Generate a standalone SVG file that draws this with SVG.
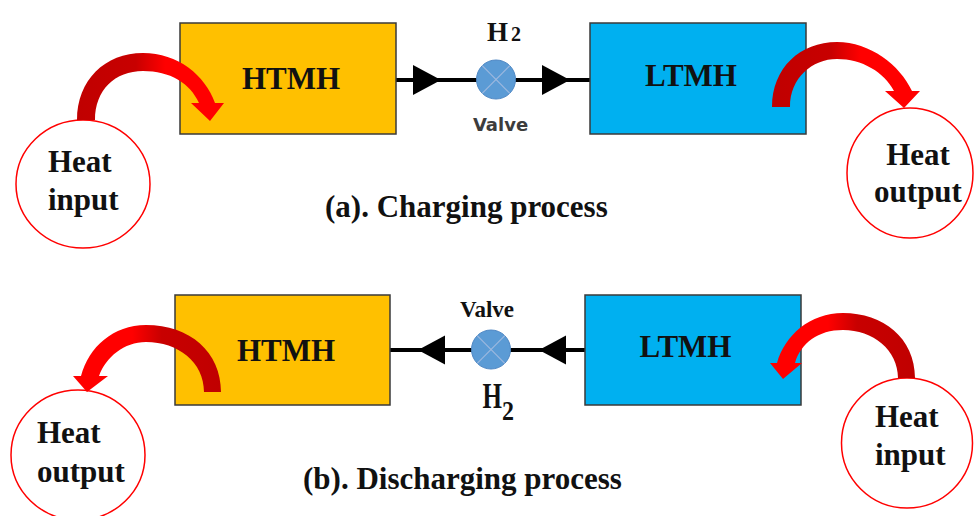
<svg xmlns="http://www.w3.org/2000/svg" xmlns:xlink="http://www.w3.org/1999/xlink" width="974" height="516" viewBox="0 0 974 516">
<defs>
<style>
.t{font-family:"Liberation Serif","Times New Roman",serif;font-weight:bold;fill:#111;}
.f31{font-size:31px;}
.box{stroke:#3a3a3a;stroke-width:1.5;}
.htmh{fill:#FFC000;}
.ltmh{fill:#00B0F0;}
.heat{fill:#fff;stroke:#FF0000;stroke-width:1.5;}
.pipe{stroke:#000;stroke-width:4;fill:none;}
.valve{fill:#5B9BD5;stroke:#5088c4;stroke-width:1;}
.vx{stroke:#9DB9DF;stroke-width:1.2;}
.ah{fill:#000;}
.sans{font-family:"DejaVu Sans",Verdana,sans-serif;font-weight:bold;font-size:18px;fill:#3c3c3c;}
</style>
<linearGradient id="gR" x1="0" y1="0" x2="1" y2="0">
<stop offset="0" stop-color="#C00000"/>
<stop offset="0.4" stop-color="#C80000"/>
<stop offset="0.6" stop-color="#FF0000"/>
<stop offset="1" stop-color="#FF0000"/>
</linearGradient>
<linearGradient id="gL" x1="1" y1="0" x2="0" y2="0">
<stop offset="0" stop-color="#C00000"/>
<stop offset="0.4" stop-color="#C80000"/>
<stop offset="0.6" stop-color="#FF0000"/>
<stop offset="1" stop-color="#FF0000"/>
</linearGradient>
<path id="ahR" d="M0,-15 L28,0 L0,15 Z"/>
<path id="ahL" d="M0,-14.5 L-27,0 L0,14.5 Z"/>
</defs>
<rect width="974" height="516" fill="#fff"/>

<g id="connectors">
<line class="pipe" x1="396" y1="80" x2="590" y2="80"/>
<use xlink:href="#ahR" class="ah" transform="translate(413,80)"/>
<use xlink:href="#ahR" class="ah" transform="translate(542,80)"/>
<line class="pipe" x1="390" y1="350" x2="585" y2="350"/>
<use xlink:href="#ahL" class="ah" transform="translate(445,350)"/>
<use xlink:href="#ahL" class="ah" transform="translate(566,350)"/>
</g>

<g id="htmh-a">
<rect class="box htmh" x="180" y="23" width="216" height="111"/>
<text class="t f31" x="291" y="88.5" text-anchor="middle">HTMH</text>
</g>
<g id="ltmh-a">
<rect class="box ltmh" x="590" y="23" width="216" height="111"/>
<text class="t f31" x="691" y="86" text-anchor="middle">LTMH</text>
</g>
<g id="valve-a">
<circle class="valve" cx="496" cy="79.5" r="19.5"/>
<line class="vx" x1="482.2" y1="65.7" x2="509.8" y2="93.3"/>
<line class="vx" x1="509.8" y1="65.7" x2="482.2" y2="93.3"/>
<text class="t" x="487" y="40.5" font-size="27">H<tspan font-size="20" dx="3">2</tspan></text>
<text class="sans" x="500.5" y="131" text-anchor="middle">Valve</text>
</g>
<g id="heat-input-a">
<ellipse class="heat" cx="83" cy="184" rx="67" ry="64"/>
<text class="t f31" x="48" y="172">Heat</text>
<text class="t f31" x="48" y="210">input</text>
</g>
<g id="heat-output-a">
<ellipse class="heat" cx="910" cy="173" rx="63" ry="65"/>
<text class="t f31" x="918" y="165" text-anchor="middle">Heat</text>
<text class="t f31" x="918" y="202" text-anchor="middle">output</text>
</g>
<g id="heat-flow-a">
<path fill="url(#gR)" d="M77,120 C77,80 105,53 143,53 C178,53 205,75 215,103 L224,103 L210,121 L191,103 L199,103 C190,83 170,71 143,71 C115,71 95,90 95,120 Z"/>
<path fill="url(#gR)" d="M772,107 C772,68 800,42 837,42 C870,42 900,65 912,91 L920,91 L904,108 L885,91 L894,91 C884,72 862,59 837,59 C812,59 790,78 790,107 Z"/>
</g>
<text id="caption-a" class="t f31" x="325" y="217">(a). Charging process</text>

<g id="htmh-b">
<rect class="box htmh" x="175" y="295" width="215" height="110"/>
<text class="t f31" x="286" y="361" text-anchor="middle">HTMH</text>
</g>
<g id="ltmh-b">
<rect class="box ltmh" x="585" y="295" width="216" height="110"/>
<text class="t f31" x="685.5" y="357" text-anchor="middle">LTMH</text>
</g>
<g id="valve-b">
<circle class="valve" cx="491" cy="349.5" r="19.5"/>
<line class="vx" x1="477.2" y1="335.7" x2="504.8" y2="363.3"/>
<line class="vx" x1="504.8" y1="335.7" x2="477.2" y2="363.3"/>
<text class="t" x="487" y="316.7" font-size="23" text-anchor="middle">Valve</text>
<text class="t" transform="translate(482.5,408) scale(1,1.4)" font-size="25">H</text>
<text class="t" transform="translate(502,420) scale(1,1.1)" font-size="24">2</text>
</g>
<g id="heat-output-b">
<ellipse class="heat" cx="78" cy="455" rx="67" ry="65"/>
<text class="t f31" x="37" y="443">Heat</text>
<text class="t f31" x="37" y="481.7">output</text>
</g>
<g id="heat-input-b">
<ellipse class="heat" cx="907" cy="443" rx="65.5" ry="65"/>
<text class="t f31" x="875" y="426.7">Heat</text>
<text class="t f31" x="875" y="465">input</text>
</g>
<g id="heat-flow-b">
<path fill="url(#gL)" d="M221,392 C221,352 190,325 146,325 C113,325 89,347 81,376 L73,376 L87,392 L108,376 L99,376 C106,357 124,342 146,342 C178,342 204,362 204,392 Z"/>
<path fill="url(#gL)" d="M915,378 C915,338 883,313 843,313 C810,313 785,335 777,363 L770,363 L783,379 L802,363 L795,363 C801,343 818,330 843,330 C873,330 898,350 898,378 Z"/>
</g>
<text id="caption-b" class="t f31" x="303" y="489">(b). Discharging process</text>
</svg>
